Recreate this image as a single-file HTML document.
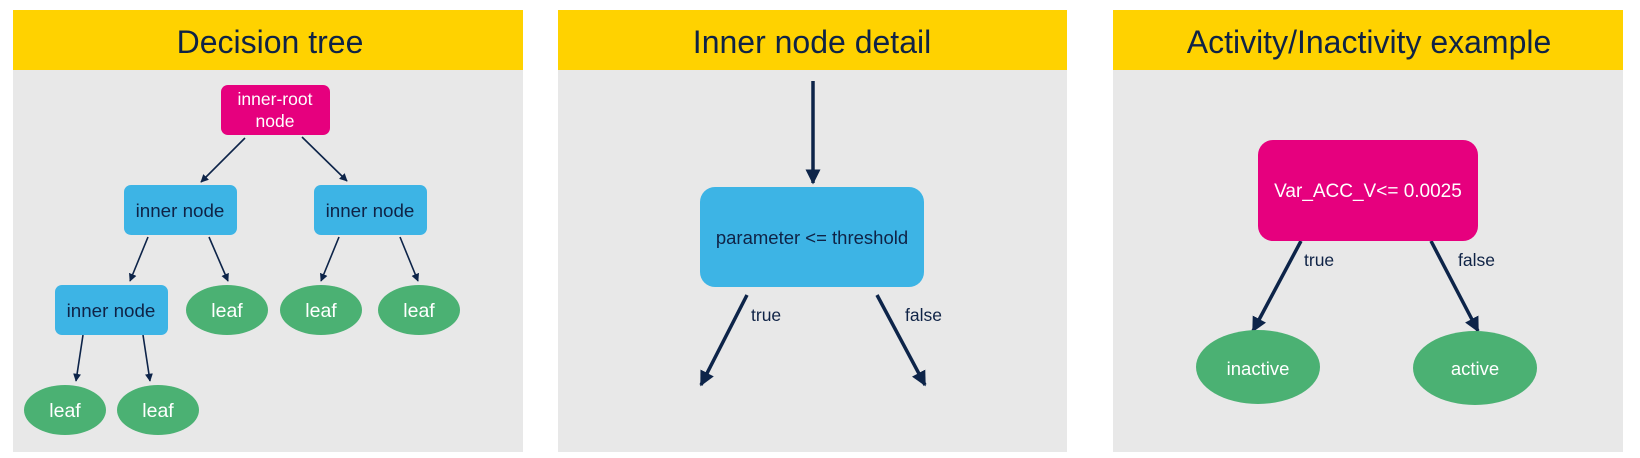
<!DOCTYPE html>
<html><head><meta charset="utf-8"><style>
html,body{margin:0;padding:0;background:#fff;}
svg{display:block;font-family:"Liberation Sans",Arial,sans-serif;}
</style></head><body>
<svg width="1640" height="458" viewBox="0 0 1640 458" xmlns="http://www.w3.org/2000/svg">
<defs>
<marker id="s" viewBox="0 0 10 10" refX="9" refY="5" markerWidth="5" markerHeight="5" markerUnits="strokeWidth" orient="auto"><path d="M0,0 L10,5 L0,10 z" fill="#0d2449"/></marker>
<marker id="b" viewBox="0 0 10 10" refX="9" refY="5" markerWidth="4.3" markerHeight="4.3" markerUnits="strokeWidth" orient="auto"><path d="M0,0 L10,5 L0,10 z" fill="#0d2449"/></marker>
</defs>
<rect x="13" y="10" width="510" height="442" fill="#e8e8e8"/>
<rect x="13" y="10" width="510" height="60" fill="#ffd200"/>
<rect x="558" y="10" width="509" height="442" fill="#e8e8e8"/>
<rect x="558" y="10" width="509" height="60" fill="#ffd200"/>
<rect x="1113" y="10" width="510" height="442" fill="#e8e8e8"/>
<rect x="1113" y="10" width="510" height="60" fill="#ffd200"/>
<g fill="#0f2346" font-size="32" text-anchor="middle">
<text x="270" y="53">Decision tree</text>
<text x="812" y="53">Inner node detail</text>
<text x="1369" y="53">Activity/Inactivity example</text>
</g>

<g stroke="#0d2449" stroke-width="1.6" fill="none" marker-end="url(#s)">
<line x1="245" y1="138" x2="201" y2="182"/>
<line x1="302" y1="137" x2="347" y2="181"/>
<line x1="148" y1="237" x2="130" y2="281"/>
<line x1="209" y1="237" x2="228" y2="281"/>
<line x1="339" y1="237" x2="321" y2="281"/>
<line x1="400" y1="237" x2="418" y2="281"/>
<line x1="83" y1="335" x2="76" y2="381"/>
<line x1="143" y1="335" x2="150" y2="381"/>
</g>
<rect x="221" y="85" width="109" height="50" rx="7" fill="#e6007e"/>
<rect x="124" y="185" width="113" height="50" rx="7" fill="#3db4e5"/>
<rect x="314" y="185" width="113" height="50" rx="7" fill="#3db4e5"/>
<rect x="55" y="285" width="113" height="50" rx="7" fill="#3db4e5"/>
<g fill="#4bb173">
<ellipse cx="227" cy="310" rx="41" ry="25"/>
<ellipse cx="321" cy="310" rx="41" ry="25"/>
<ellipse cx="419" cy="310" rx="41" ry="25"/>
<ellipse cx="65" cy="410" rx="41" ry="25"/>
<ellipse cx="158" cy="410" rx="41" ry="25"/>
</g>
<g font-size="17.5" text-anchor="middle" fill="#fff">
<text x="275" y="105">inner-root</text>
<text x="275" y="127">node</text>
</g>
<g font-size="19.5" text-anchor="middle" fill="#fff">
<text x="227" y="317">leaf</text>
<text x="321" y="317">leaf</text>
<text x="419" y="317">leaf</text>
<text x="65" y="417">leaf</text>
<text x="158" y="417">leaf</text>
</g>
<g font-size="18.8" text-anchor="middle" fill="#0f2346">
<text x="180" y="217">inner node</text>
<text x="370" y="217">inner node</text>
<text x="111" y="317">inner node</text>
</g>

<g stroke="#0d2449" stroke-width="3.5" fill="none" marker-end="url(#b)">
<line x1="813" y1="81" x2="813" y2="183"/>
<line x1="747" y1="295" x2="701" y2="385"/>
<line x1="877" y1="295" x2="925" y2="385"/>
</g>
<rect x="700" y="187" width="224" height="100" rx="15" fill="#3db4e5"/>
<text x="812" y="244" font-size="18.5" text-anchor="middle" fill="#0f2346">parameter &lt;= threshold</text>
<text x="751" y="321" font-size="17.5" fill="#0f2346">true</text>
<text x="905" y="321" font-size="17.5" fill="#0f2346">false</text>

<g stroke="#0d2449" stroke-width="3.5" fill="none" marker-end="url(#b)">
<line x1="1301" y1="241" x2="1253" y2="331"/>
<line x1="1431" y1="241" x2="1478" y2="331"/>
</g>
<rect x="1258" y="140" width="220" height="101" rx="15" fill="#e6007e"/>
<text x="1368" y="197" font-size="19" text-anchor="middle" fill="#fff">Var_ACC_V&lt;= 0.0025</text>
<text x="1304" y="266" font-size="17.5" fill="#0f2346">true</text>
<text x="1458" y="266" font-size="17.5" fill="#0f2346">false</text>
<ellipse cx="1258" cy="367" rx="62" ry="37" fill="#4bb173"/>
<ellipse cx="1475" cy="368" rx="62" ry="37" fill="#4bb173"/>
<text x="1258" y="375" font-size="18.5" text-anchor="middle" fill="#fff">inactive</text>
<text x="1475" y="375" font-size="18.5" text-anchor="middle" fill="#fff">active</text>
</svg>
</body></html>
